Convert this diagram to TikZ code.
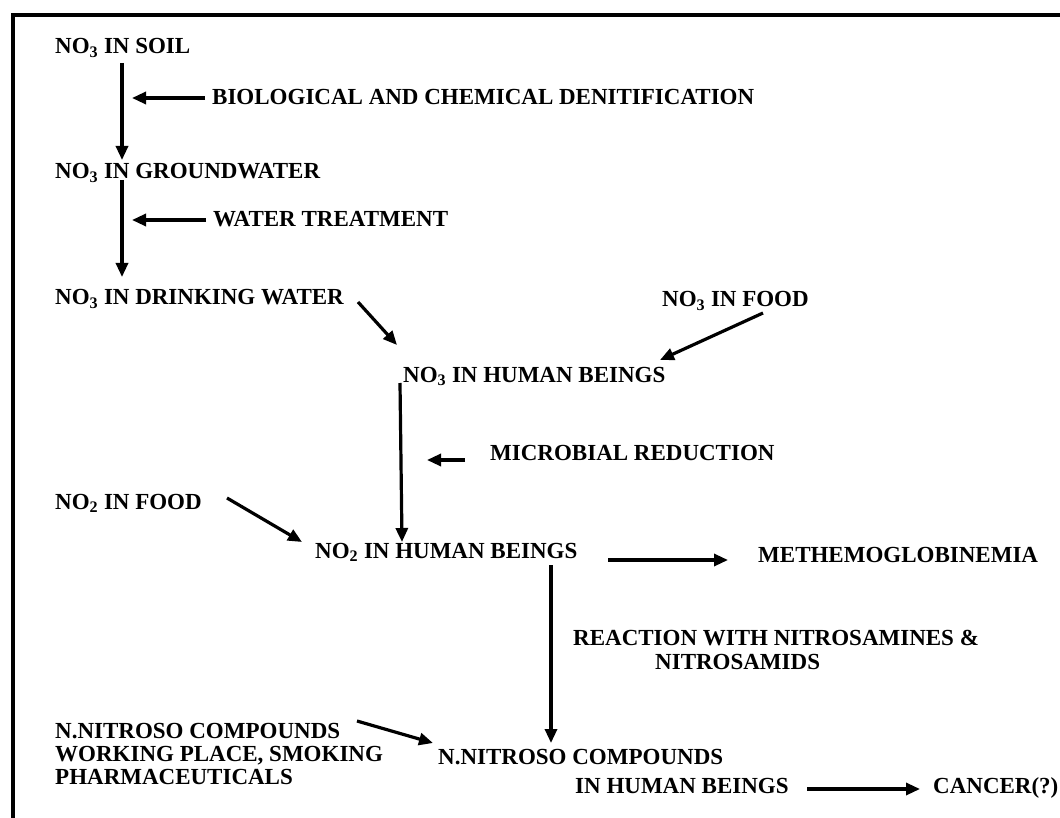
\documentclass[tikz,border=0pt]{standalone}
\usepackage{fontspec}
\setmainfont{Liberation Serif}
\usetikzlibrary{arrows.meta}
\newcommand{\nthree}{NO\textsubscript{3}}
\newcommand{\ntwo}{NO\textsubscript{2}}
\begin{document}
\begin{tikzpicture}[x=1pt,y=-1pt,
    lbl/.style={anchor=base west,inner sep=0pt,font=\fontsize{23}{27}\selectfont\bfseries},
    flow/.style={line width=3.2pt,-{Triangle[length=14pt,width=12pt]}}]
  \useasboundingbox (0,0) rectangle (1060,818);
  \draw[line width=3.2pt] (13,818) -- (13,15) -- (1060,15);
  \draw
    (55,54) node[lbl] (soil){\nthree{} IN SOIL}
    (55,179) node[lbl] (ground){\nthree{} IN GROUNDWATER}
    (55,305) node[lbl] (drink){\nthree{} IN DRINKING WATER}
    (212,105) node[lbl] (deni){BIOLOGICAL AND CHEMICAL DENITIFICATION}
    (213,227) node[lbl] (treat){WATER TREATMENT}
    (662,307) node[lbl] (foodthree){\nthree{} IN FOOD}
    (403,382) node[lbl] (humthree){\nthree{} IN HUMAN BEINGS}
    (490,460) node[lbl] (micro){MICROBIAL REDUCTION}
    (55,509) node[lbl] (foodtwo){\ntwo{} IN FOOD}
    (315,558) node[lbl] (humtwo){\ntwo{} IN HUMAN BEINGS}
    (758,562) node[lbl] (methem){METHEMOGLOBINEMIA}
    (573,645) node[lbl] (react){REACTION WITH NITROSAMINES \&}
    (655,669) node[lbl] (reactb){NITROSAMIDS}
    (55,738) node[lbl] (ext){N.NITROSO COMPOUNDS}
    (55,761) node[lbl] (extb){WORKING PLACE, SMOKING}
    (55,784) node[lbl] (extc){PHARMACEUTICALS}
    (438,764) node[lbl] (nitro){N.NITROSO COMPOUNDS}
    (575,793) node[lbl] (nitrob){IN HUMAN BEINGS}
    (933,793) node[lbl] (cancer){CANCER(?)};
  \coordinate (denitip) at (132,98);
  \coordinate (treattip) at (132,220);
  \coordinate (microtip) at (427,460);
  \begin{scope}[flow]
    \draw ([shift={(67,9)}]soil.base west) to ([shift={(67,-19)}]ground.base west);
    \draw ([shift={(67,1)}]ground.base west) to ([shift={(67,-28)}]drink.base west);
    \draw ([shift={(-7,-7)}]deni.base west) to (denitip);
    \draw ([shift={(-7,-7)}]treat.base west) to (treattip);
    \draw ([shift={(303,-3)}]drink.base west) to ([shift={(-6,-37)}]humthree.base west);
    \draw ([shift={(101,6)}]foodthree.base west) to ([shift={(257,-22)}]humthree.base west);
    \draw ([shift={(-3,1)}]humthree.base west) to ([shift={(87,-16)}]humtwo.base west);
    \draw ([shift={(-25,0)}]micro.base west) to (microtip);
    \draw ([shift={(172,-11)}]foodtwo.base west) to ([shift={(-13,-16)}]humtwo.base west);
    \draw ([shift={(293,2)}]humtwo.base west) to ([shift={(-30,-2)}]methem.base west);
    \draw ([shift={(236,7)}]humtwo.base west) to ([shift={(113,-21)}]nitro.base west);
    \draw ([shift={(302,-17)}]ext.base west) to ([shift={(-5,-21)}]nitro.base west);
    \draw ([shift={(232,-4)}]nitrob.base west) to ([shift={(-13,-4)}]cancer.base west);
  \end{scope}
\end{tikzpicture}
\end{document}
